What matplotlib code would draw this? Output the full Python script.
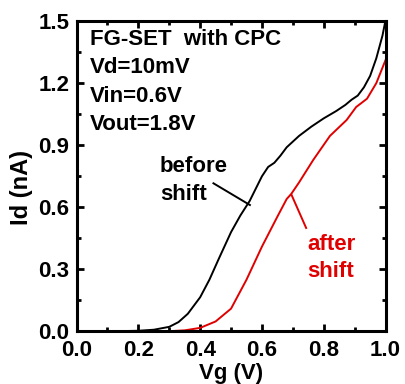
import numpy as np
import matplotlib
matplotlib.use("Agg")
import matplotlib.pyplot as plt

plt.rcParams['font.family'] = ['Liberation Sans', 'DejaVu Sans']
plt.rcParams['font.weight'] = 'bold'

# Id-Vg curves
vg_before = [0.00, 0.10, 0.20, 0.25, 0.30, 0.33, 0.36, 0.40, 0.43, 0.46, 0.50, 0.53, 0.56,
             0.58, 0.60, 0.62, 0.64, 0.66, 0.68, 0.72, 0.76, 0.80, 0.84, 0.87, 0.89,
             0.91, 0.93, 0.95, 0.97, 0.99, 1.00]
id_before = [0.000, 0.000, 0.003, 0.008, 0.022, 0.045, 0.085, 0.165, 0.250, 0.350, 0.480,
             0.560, 0.630, 0.690, 0.750, 0.795, 0.815, 0.850, 0.890, 0.945, 0.990, 1.030,
             1.065, 1.095, 1.120, 1.140, 1.180, 1.235, 1.320, 1.430, 1.505]

vg_after = [0.00, 0.20, 0.30, 0.35, 0.40, 0.45, 0.50, 0.55, 0.60, 0.65, 0.68, 0.695, 0.72,
            0.766, 0.82, 0.874, 0.905, 0.92, 0.94, 0.97, 1.00]
id_after = [0.000, 0.000, 0.001, 0.005, 0.017, 0.048, 0.110, 0.250, 0.410, 0.555, 0.640,
            0.665, 0.720, 0.829, 0.945, 1.022, 1.085, 1.102, 1.125, 1.200, 1.312]

info_lines = ["FG-SET  with CPC", "Vd=10mV", "Vin=0.6V", "Vout=1.8V"]

fig = plt.figure(figsize=(4.05, 3.84), dpi=100)
ax = fig.add_axes([0.189, 0.137, 0.763, 0.808])

ax.plot(vg_before, id_before, color='black', lw=1.4)
ax.plot(vg_after, id_after, color='#e00000', lw=1.4)

ax.set_xlim(0, 1.0)
ax.set_ylim(0, 1.5)
ax.set_xticks(np.arange(0, 1.01, 0.2))
ax.set_yticks(np.arange(0, 1.51, 0.3))
ax.set_xticks(np.arange(0.1, 1.0, 0.2), minor=True)
ax.set_yticks(np.arange(0.15, 1.5, 0.3), minor=True)
ax.xaxis.set_major_formatter(matplotlib.ticker.FormatStrFormatter('%.1f'))
ax.yaxis.set_major_formatter(matplotlib.ticker.FormatStrFormatter('%.1f'))
ax.tick_params(which='both', direction='in', top=True, right=True, width=2)
ax.tick_params(which='major', length=5, labelsize=16)
ax.tick_params(which='minor', length=3)
ax.tick_params(axis='x', pad=6)
ax.tick_params(axis='y', pad=5)
for s in ax.spines.values():
    s.set_linewidth(2.2)

ax.set_xlabel("Vg (V)", fontsize=16, fontweight='bold', labelpad=1.5)
ax.set_ylabel("Id (nA)", fontsize=17, fontweight='bold')
ax.yaxis.set_label_coords(-0.141, 0.465)

for k, line in enumerate(info_lines):
    ax.text(0.042, 1.384 - k * 0.137, line, fontsize=16, fontweight='bold')

ax.text(0.270, 0.771, "before", fontsize=16, fontweight='bold')
ax.text(0.270, 0.635, "shift", fontsize=16, fontweight='bold')
ax.plot([0.443, 0.561], [0.716, 0.611], color='black', lw=1.4)

ax.text(0.746, 0.394, "after", fontsize=16, fontweight='bold', color='#e00000')
ax.text(0.746, 0.263, "shift", fontsize=16, fontweight='bold', color='#e00000')
ax.plot([0.696, 0.743], [0.659, 0.500], color='#e00000', lw=1.4)

fig.savefig("out.png", dpi=100)
